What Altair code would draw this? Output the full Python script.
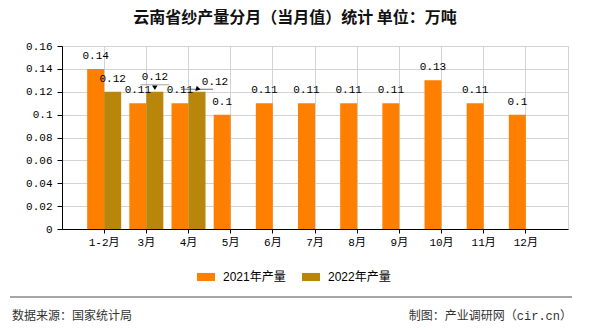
import altair as alt
import pandas as pd

# ---- data ----
months = ["1-2月", "3月", "4月", "5月", "6月", "7月", "8月", "9月", "10月", "11月", "12月"]
prod_2021 = [0.14, 0.11, 0.11, 0.10, 0.11, 0.11, 0.11, 0.11, 0.13, 0.11, 0.10]
months_2022 = ["1-2月", "3月", "4月"]
prod_2022 = [0.12, 0.12, 0.12]
series_names = ["2021年产量", "2022年产量"]
colors = ["#FF8000", "#B8860B"]
y_ticks = [0, 0.02, 0.04, 0.06, 0.08, 0.10, 0.12, 0.14, 0.16]

title_text = "云南省纱产量分月（当月值）统计 单位：万吨"
source_text = "数据来源：国家统计局"
credit_text = "制图：产业调研网（cir.cn）"

rows = [{"month": m, "series": series_names[0], "value": v} for m, v in zip(months, prod_2021)]
rows += [{"month": m, "series": series_names[1], "value": v} for m, v in zip(months_2022, prod_2022)]
df = pd.DataFrame(rows)

NUM_FONT = "Liberation Mono, Noto Sans CJK SC"
CJK_FONT = "Noto Sans CJK SC"

x_enc = alt.X(
    "month:N", sort=months,
    scale=alt.Scale(paddingInner=0, paddingOuter=0.5),
    axis=alt.Axis(title=None, labelAngle=0, grid=True, gridColor="#d3d3d3",
                  domainColor="black", tickColor="black", tickSize=4,
                  labelPadding=3, labelFont=NUM_FONT, labelFontSize=11,
                  labelColor="black"),
)
xoff = alt.XOffset("series:N", sort=series_names,
                   scale=alt.Scale(domain=series_names, paddingInner=0, paddingOuter=0.24))
y_enc = alt.Y(
    "value:Q",
    scale=alt.Scale(domain=[0, 0.16], nice=False),
    axis=alt.Axis(title=None, values=y_ticks, format=".2~f", grid=True,
                  gridColor="#d3d3d3", domainColor="black", tickColor="black",
                  tickSize=5, labelPadding=5, labelFont=NUM_FONT,
                  labelFontSize=11, labelColor="black"),
)
color = alt.Color(
    "series:N", sort=series_names,
    scale=alt.Scale(domain=series_names, range=colors),
    legend=alt.Legend(title=None, orient="none", legendX=135, legendY=222,
                      direction="horizontal", symbolType="M-1,-0.45H1V0.45H-1Z",
                      symbolSize=324, symbolStrokeWidth=0, labelFont="Liberation Sans, Noto Sans CJK SC",
                      labelFontSize=12, labelColor="black", labelOffset=8,
                      columnPadding=16, padding=0),
)

base = alt.Chart(df)
bars = base.mark_bar().encode(x=x_enc, xOffset=xoff, y=y_enc, color=color)

is3 = "datum.series == '2022年产量' && datum.month == '3月'"
is4 = "datum.series == '2022年产量' && datum.month == '4月'"

label_kw = dict(font=NUM_FONT, fontSize=11, baseline="middle", color="black")
txt = alt.Text("value:Q", format=".2~f")

labels = base.mark_text(dy=-13, **label_kw).encode(
    x=x_enc, xOffset=xoff, y=y_enc, text=txt
).transform_filter(f"!({is3}) && !({is4})")

label3 = base.mark_text(dy=-15, **label_kw).encode(
    x=x_enc, xOffset=xoff, y=y_enc, text=txt).transform_filter(is3)
label4 = base.mark_text(dx=18, dy=-10, **label_kw).encode(
    x=x_enc, xOffset=xoff, y=y_enc, text=txt).transform_filter(is4)

line3 = base.mark_tick(size=29, thickness=1, color="#808080", yOffset=-7).encode(
    x=x_enc, xOffset=xoff, y=y_enc).transform_filter(is3)
line4 = base.mark_tick(size=32, thickness=1, color="#333333", xOffset=17, yOffset=-2.5).encode(
    x=x_enc, xOffset=xoff, y=y_enc).transform_filter(is4)
arrow3 = base.mark_point(shape="triangle-down", filled=True, size=30, color="black",
                         opacity=1, yOffset=-4).encode(
    x=x_enc, xOffset=xoff, y=y_enc).transform_filter(is3)
arrow4 = base.mark_point(shape="triangle-left", filled=True, size=30, color="black",
                         opacity=1, angle=315, xOffset=4, yOffset=-2.5).encode(
    x=x_enc, xOffset=xoff, y=y_enc).transform_filter(is4)

one = pd.DataFrame({"t": [title_text], "s": [source_text], "c": [credit_text]})
title = alt.Chart(one).mark_text(font=CJK_FONT, fontSize=16, fontWeight="bold", color="#111111",
                                 baseline="middle", align="center").encode(
    x=alt.value(233), y=alt.value(-28), text="t:N")
footer_line = alt.Chart(one).mark_rule(color="#888888", strokeWidth=1.5).encode(
    x=alt.value(-52), x2=alt.value(510), y=alt.value(251))
source = alt.Chart(one).mark_text(font=CJK_FONT, fontSize=12, color="#333333",
                                  baseline="middle", align="left").encode(
    x=alt.value(-50), y=alt.value(270), text="s:N")
credit = alt.Chart(one).mark_text(font=NUM_FONT, fontSize=12, color="#333333",
                                  baseline="middle", align="right").encode(
    x=alt.value(510), y=alt.value(270), text="c:N")

chart = alt.layer(
    bars, labels, label3, label4, line3, line4, arrow3, arrow4,
    title, footer_line, source, credit
).properties(
    width=506, height=183,
    padding={"left": 62, "top": 46, "right": 22, "bottom": 101},
    autosize=alt.AutoSizeParams(type="none"),
    background="white",
).configure_view(stroke="#d3d3d3")

chart.save("out.html", embed_options={"renderer": "svg", "actions": False})
